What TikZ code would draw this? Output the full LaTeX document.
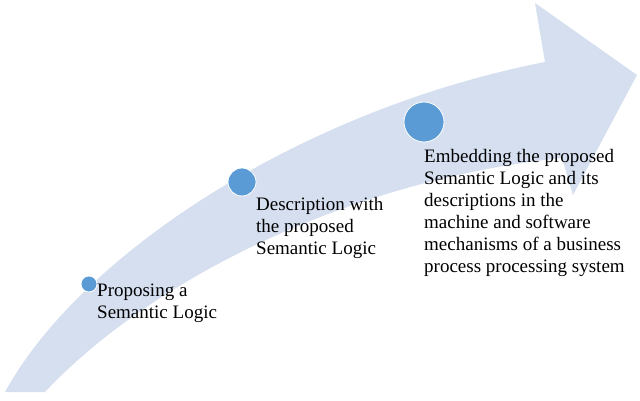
\documentclass[tikz,border=0pt]{standalone}
\usepackage{fontspec}
\setmainfont{Liberation Serif}
\begin{document}
\begin{tikzpicture}[x=1pt,y=-1pt,
  dot/.style={circle,draw=white,line width=0.8pt,inner sep=0pt},
  lbl/.style={anchor=north west,align=left,inner sep=0pt,font=\fontsize{19}{22}\selectfont}]
\useasboundingbox (0,0) rectangle (640,401);
\definecolor{arr}{HTML}{D5DFEF}
\definecolor{dotc}{HTML}{5B9BD5}
\fill[arr] (5,392) .. controls (80,255) and (300,110) .. (545,62) -- (535,3) -- (637,75) -- (573,195) -- (562,158) .. controls (350,180) and (150,280) .. (45,392) -- cycle;
\node[dot,fill=dotc,minimum size=16pt] (c1) at (89,284) {};
\node[dot,fill=dotc,minimum size=28pt] (c2) at (242,182) {};
\node[dot,fill=dotc,minimum size=40pt] (c3) at (424,122) {};
\node[lbl] (t1) at (97,284) {Proposing a\\Semantic Logic};
\node[lbl] (t2) at (256,197) {Description with\\the proposed\\Semantic Logic};
\node[lbl] (t3) at (424,149) {Embedding the proposed\\Semantic Logic and its\\descriptions in the\\machine and software\\mechanisms of a business\\process processing system};
\end{tikzpicture}
\end{document}
